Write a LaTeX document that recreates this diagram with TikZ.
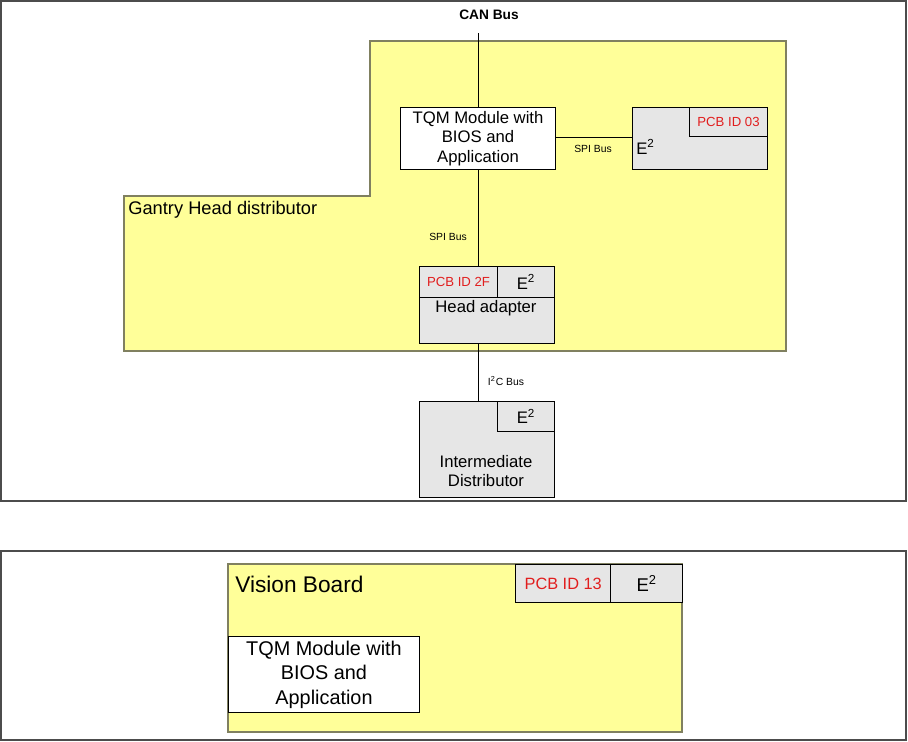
\documentclass[tikz,border=0pt]{standalone}
\usepackage{fontspec}
\setmainfont{Liberation Sans}
\usepackage{tikz}
\usetikzlibrary{positioning}

\definecolor{boardyellow}{RGB}{255,255,153}
\definecolor{boardedge}{RGB}{128,128,96}
\definecolor{chipgray}{RGB}{230,230,230}
\definecolor{idred}{RGB}{225,30,30}

\begin{document}
\begin{tikzpicture}[
    x=0.02cm, y=-0.02cm,
    frame/.style={draw=black!70, line width=0.8pt},
    board/.style={draw=boardedge, fill=boardyellow, line width=0.6pt},
    cpu/.style={rectangle, draw, fill=white, line width=0.6pt, anchor=north west, inner sep=0pt},
    chip/.style={rectangle, draw, fill=chipgray, line width=0.6pt, anchor=north west, inner sep=0pt},
    txt/.style={font=\fontsize{9.5}{11}\selectfont, align=center, inner sep=0pt},
    idtxt/.style={font=\fontsize{7.5}{8}\selectfont, text=idred, inner sep=0pt},
    bus/.style={font=\fontsize{5.9}{7}\selectfont, inner sep=0pt},
    wire/.style={draw, line width=0.5pt}
]
\useasboundingbox (0,0) rectangle (908,741);
% upper frame
\draw[frame] (1,1) rectangle (906,501);
\node[font=\bfseries\fontsize{7.8}{9}\selectfont, inner sep=0pt] (can) at (489,15) {CAN Bus};
\coordinate (cantop) at (478,33);
\draw[board] (124,196) -- (370,196) -- (370,41) -- (786,41) -- (786,351) -- (124,351) -- cycle;
\node[anchor=west, font=\fontsize{10.4}{12}\selectfont, inner sep=0pt] (gantry) at (128,210) {Gantry Head distributor};

\node[cpu, minimum width=3.1cm, minimum height=1.24cm] (tqm) at (400,107) {};
\node[txt] (tqmtext) at (tqm.center) {TQM Module with\\BIOS and\\Application};

\node[chip, minimum width=2.7cm, minimum height=1.24cm] (eep) at (632,107) {};
\node[chip, minimum width=1.56cm, minimum height=0.58cm] (id03) at (689,107) {};
\node[idtxt] (id03text) at (id03.center) {PCB ID 03};
\node[anchor=west, txt] (eeptext) at (636,147) {E\textsuperscript{2}};
\draw[wire] (tqm.east |- id03.south) -- (eep.west |- id03.south);
\node[bus] (spi1) at (593,149) {SPI Bus};
\node[bus] (spi2) at (448,237) {SPI Bus};

% head adapter
\node[chip, minimum width=2.7cm, minimum height=1.54cm] (head) at (419,266) {};
\node[chip, minimum width=1.56cm, minimum height=0.62cm] (id2f) at (419,266) {};
\node[chip, minimum width=1.14cm, minimum height=0.62cm] (headeep) at (497,266) {};
\node[idtxt] (id2ftext) at (id2f.center) {PCB ID 2F};
\node[txt] (headeeptext) at (headeep.center) {E\textsuperscript{2}};
\node[txt] (headtext) at (486,308) {Head adapter};

% intermediate distributor
\node[bus] (i2c) at (506,381) {I\textsuperscript{2}C Bus};
\node[chip, minimum width=2.7cm, minimum height=1.92cm] (inter) at (419,401) {};
\node[chip, minimum width=1.14cm, minimum height=0.6cm] (intereep) at (497,401) {};
\node[txt] (intereeptext) at (intereep.center) {E\textsuperscript{2}};
\node[txt] (intertext) at (486,471) {Intermediate\\Distributor};

% bus wires
\draw[wire] (cantop) -- (tqm.north -| cantop);
\draw[wire] (tqm.south -| cantop) -- (head.north -| cantop);
\draw[wire] (head.south -| cantop) -- (inter.north -| cantop);

% lower frame
\draw[frame] (1,551) rectangle (906,740);
\draw[board] (228,564) rectangle (682,732);
\node[anchor=west, font=\fontsize{12.9}{14}\selectfont, inner sep=0pt] (vision) at (235,584) {Vision Board};
\node[chip, line width=0.8pt, minimum width=1.9cm, minimum height=0.76cm] (id13) at (515,564) {};
\node[chip, line width=0.8pt, minimum width=1.44cm, minimum height=0.76cm] (visioneep) at (610,564) {};
\node[idtxt, font=\fontsize{9.3}{10}\selectfont] (id13text) at (id13.center) {PCB ID 13};
\node[txt, font=\fontsize{10.5}{12}\selectfont] (visioneeptext) at (visioneep.center) {E\textsuperscript{2}};
\node[cpu, minimum width=3.82cm, minimum height=1.52cm] (tqm2) at (228,636) {};
\node[txt, font=\fontsize{11.3}{14}\selectfont] (tqm2text) at (tqm2.center) {TQM Module with\\BIOS and\\Application};
\end{tikzpicture}
\end{document}
